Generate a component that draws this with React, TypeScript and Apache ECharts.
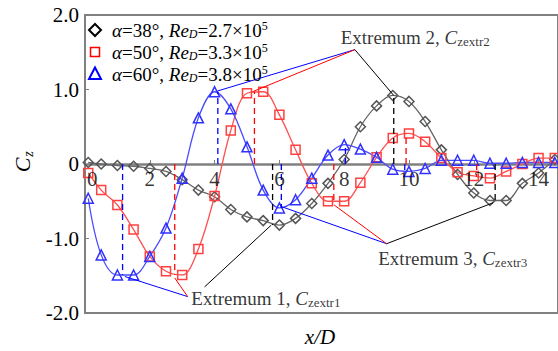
import React, { useEffect, useRef } from 'react';
import * as echarts from 'echarts';

const FF = '"Liberation Serif", "Times New Roman", serif';

// x/D stations
const xPos = [0.1, 0.5, 1, 1.5, 2, 2.5, 3, 3.5, 4, 4.5, 5, 5.5, 6, 6.5, 7, 7.5, 8, 8.5, 9, 9.5, 10, 10.5, 11, 11.5, 12, 12.5, 13, 13.5, 14, 14.5];
// Cz for each case
const cz38 = [0.02, 0.0, -0.02, -0.03, -0.06, -0.1, -0.21, -0.35, -0.44, -0.61, -0.71, -0.76, -0.82, -0.73, -0.53, -0.26, 0.06, 0.5, 0.78, 0.92, 0.84, 0.57, 0.19, -0.14, -0.39, -0.49, -0.49, -0.26, -0.12, 0.06];
const cz50 = [-0.12, -0.35, -0.55, -0.88, -1.24, -1.44, -1.49, -1.14, -0.43, 0.45, 0.95, 0.97, 0.66, 0.19, -0.26, -0.5, -0.5, -0.25, 0.09, 0.35, 0.41, 0.3, 0.08, -0.11, -0.16, -0.19, -0.1, 0.0, 0.08, 0.08];
const cz60 = [-0.46, -1.22, -1.49, -1.49, -1.24, -0.86, -0.19, 0.62, 0.97, 0.74, 0.23, -0.35, -0.59, -0.48, -0.19, 0.12, 0.26, 0.2, 0.09, -0.07, -0.1, -0.06, 0.05, 0.05, 0.05, 0.01, 0.01, 0.02, 0.02, 0.02];

// extremum positions (x, Cz)
const extr38X = [5.79, 9.53, 12.66];
const extr38Y = [-0.82, 0.92, -0.5];
const extr50X = [2.77, 5.23, 7.68, 9.91, 12.09];
const extr50Y = [-1.49, 0.97, -0.5, 0.41, -0.17];
const extr60X = [1.16, 4.1, 6.06, 8.04, 9.87];
const extr60Y = [-1.49, 0.97, -0.59, 0.26, -0.1];

// annotation anchors and targets (data coordinates)
const ann1Anchor = [3.17, -1.78];
const ann1Targets = { blue: [1.23, -1.51], red: [2.77, -1.53] };
const ann1Black = [[3.69, -1.65], [5.75, -0.82]];
const ann2Anchor = [8.33, 1.535];
const ann2Targets = { blue: [4.09, 0.98], red: [5.17, 0.97], black: [9.53, 0.92] };
const ann3Anchor = [9.31, -1.07];
const ann3Targets = { blue: [6.05, -0.57], red: [7.69, -0.55], black: [12.6, -0.52] };

const annTexts = [
  { pos: [3.28, -1.8], text: '{n|Extremum 1, }{c|C}{s|zextr1}' },
  { pos: [7.89, 1.7], text: '{n|Extremum 2, }{c|C}{s|zextr2}' },
  { pos: [9.05, -1.265], text: '{n|Extremum 3, }{c|C}{s|zextr3}' },
];

const xTicks = [0, 2, 4, 6, 8, 10, 12, 14];
const yTicks = [-2, -1, 0, 1, 2];
const yTickLabels = ['-2.0', '-1.0', '0', '1.0', '2.0'];

const legendAlpha = ['38', '50', '60'];
const legendRe = ['2.7', '3.3', '3.8'];

const BLACK = '#000000';
const RED = '#ff0000';
const BLUE = '#0000ff';

function seg(name: string, pts: number[][], color: string, dashed: boolean, width = 1) {
  return {
    name,
    type: 'line',
    data: pts,
    symbol: 'none',
    silent: true,
    z: 4,
    lineStyle: { color, width, type: dashed ? [6, 4] : 'solid' },
  };
}

export default function App() {
  const ref = useRef<HTMLDivElement>(null);
  useEffect(() => {
    document.body.style.margin = '0';
    const chart = echarts.init(ref.current!, null, { renderer: 'svg' });

    const main = (name: string, ys: number[], symbol: string, size: number, lineColor: string, markColor: string) => ({
      name,
      type: 'line',
      data: xPos.map((x, i) => [x, ys[i]]),
      smooth: 0.35,
      symbol,
      symbolSize: size,
      z: 3,
      lineStyle: { color: lineColor, width: 1.3 },
      itemStyle: { color: 'rgba(255,255,255,0)', borderColor: markColor, borderWidth: 1.5 },
    });

    const series: any[] = [
      main('a38', cz38, 'diamond', 10, '#666666', '#555555'),
      main('a50', cz50, 'rect', 9, '#ff5050', '#ff4040'),
      main('a60', cz60, 'triangle', 10, '#4a4aff', '#3030ff'),
    ];

    extr38X.forEach((x, i) => series.push(seg('e38_' + i, [[x, 0], [x, extr38Y[i]]], BLACK, true, 1.3)));
    extr50X.forEach((x, i) => series.push(seg('e50_' + i, [[x, 0], [x, extr50Y[i]]], RED, true, 1.3)));
    extr60X.forEach((x, i) => series.push(seg('e60_' + i, [[x, 0], [x, extr60Y[i]]], BLUE, true, 1.3)));

    series.push(seg('a1b', [ann1Anchor, ann1Targets.blue], BLUE, false));
    series.push(seg('a1r', [ann1Anchor, ann1Targets.red], RED, false));
    series.push(seg('a1k', ann1Black, BLACK, false));
    series.push(seg('a2b', [ann2Anchor, ann2Targets.blue], BLUE, false));
    series.push(seg('a2r', [ann2Anchor, ann2Targets.red], RED, false));
    series.push(seg('a2k', [ann2Anchor, ann2Targets.black], BLACK, false));
    series.push(seg('a3b', [ann3Anchor, ann3Targets.blue], BLUE, false));
    series.push(seg('a3r', [ann3Anchor, ann3Targets.red], RED, false));
    series.push(seg('a3k', [ann3Anchor, ann3Targets.black], BLACK, false));

    annTexts.forEach((a, i) =>
      series.push({
        name: 'txt' + i,
        type: 'scatter',
        data: [a.pos],
        symbolSize: 0.1,
        silent: true,
        z: 6,
        itemStyle: { color: 'rgba(0,0,0,0)' },
        label: {
          show: true,
          position: 'right',
          distance: 0,
          formatter: a.text,
          color: '#000',
          fontFamily: FF,
          rich: {
            n: { fontFamily: FF, fontSize: 19, color: '#000', lineHeight: 22 },
            c: { fontFamily: FF, fontSize: 19, fontStyle: 'italic', color: '#000', lineHeight: 22 },
            s: { fontFamily: FF, fontSize: 13, color: '#000', lineHeight: 12, verticalAlign: 'bottom' },
          },
        },
      })
    );

    // x tick labels placed just under the zero line
    series.push({
      name: 'xticklabels',
      type: 'scatter',
      silent: true,
      symbolSize: 0.1,
      z: 5,
      itemStyle: { color: 'rgba(0,0,0,0)' },
      data: xTicks.map((v) => ({
        value: [v, 0],
        label: v === 0 ? { align: 'left', offset: [2, 0] } : undefined,
      })),
      label: {
        show: true,
        position: 'bottom',
        distance: 4,
        formatter: (p: any) => String(p.value[0]),
        fontFamily: FF,
        fontSize: 21,
        color: '#000',
      },
    });

    // legend built from graphic elements
    const richLegend = {
      g: { fontFamily: FF, fontSize: 19, fontStyle: 'italic', fill: '#000', lineHeight: 20 },
      n: { fontFamily: FF, fontSize: 19, fill: '#000', lineHeight: 20 },
      i: { fontFamily: FF, fontSize: 19, fontStyle: 'italic', fill: '#000', lineHeight: 20 },
      s: { fontFamily: FF, fontSize: 12, fontStyle: 'italic', fill: '#000', lineHeight: 10, verticalAlign: 'bottom' },
      p: { fontFamily: FF, fontSize: 12, fill: '#000', lineHeight: 10, verticalAlign: 'top' },
    };
    const rowY = [30, 52, 74];
    const iconX = 95;
    const legendGraphics: any[] = [];
    legendGraphics.push({
      type: 'polygon',
      shape: { points: [[iconX, rowY[0] - 6], [iconX + 6, rowY[0]], [iconX, rowY[0] + 6], [iconX - 6, rowY[0]]] },
      style: { fill: '#fff', stroke: BLACK, lineWidth: 2 },
      z: 10,
    });
    legendGraphics.push({
      type: 'rect',
      shape: { x: iconX - 4.5, y: rowY[1] - 4.5, width: 9, height: 9 },
      style: { fill: '#fff', stroke: RED, lineWidth: 1.5 },
      z: 10,
    });
    legendGraphics.push({
      type: 'polygon',
      shape: { points: [[iconX, rowY[2] - 6.5], [iconX + 6, rowY[2] + 5], [iconX - 6, rowY[2] + 5]] },
      style: { fill: '#fff', stroke: BLUE, lineWidth: 2 },
      z: 10,
    });
    legendAlpha.forEach((a, i) => {
      legendGraphics.push({
        type: 'text',
        x: 112,
        y: rowY[i],
        z: 10,
        style: {
          text: `{g|α}{n|=${a}°, }{i|Re}{s|D}{n|=${legendRe[i]}×10}{p|5}`,
          align: 'left',
          verticalAlign: 'middle',
          rich: richLegend,
        },
      });
    });

    const option: any = {
      animation: false,
      backgroundColor: '#ffffff',
      grid: { left: 85, top: 15, width: 475, height: 298, show: true, borderColor: '#808080', borderWidth: 2, backgroundColor: 'transparent' },
      xAxis: {
        type: 'value',
        min: 0,
        max: 14.6,
        interval: 2,
        axisLine: { onZero: true, lineStyle: { color: '#808080', width: 2.5 } },
        axisTick: { show: true, inside: true, length: 4, lineStyle: { color: '#808080' } },
        axisLabel: { show: false },
        splitLine: { show: false },
      },
      yAxis: {
        type: 'value',
        min: -2,
        max: 2,
        interval: 1,
        axisLine: { show: true, lineStyle: { color: '#808080', width: 2 } },
        axisTick: { show: true, inside: true, length: 4, lineStyle: { color: '#808080' } },
        axisLabel: {
          fontFamily: FF,
          fontSize: 21,
          color: '#000',
          margin: 6,
          formatter: (v: number) => {
            const idx = yTicks.indexOf(v);
            return idx >= 0 ? yTickLabels[idx] : '';
          },
        },
        splitLine: { show: false },
      },
      graphic: [
        ...legendGraphics,
        {
          type: 'group',
          x: 22,
          y: 162,
          rotation: Math.PI / 2,
          children: [
            {
              type: 'text',
              x: -3,
              y: 0,
              style: { text: 'C', align: 'center', verticalAlign: 'middle', fontFamily: FF, fontSize: 22, fontStyle: 'italic', fill: '#000' },
            },
            {
              type: 'text',
              x: 8,
              y: 6,
              style: { text: 'z', align: 'center', verticalAlign: 'middle', fontFamily: FF, fontSize: 14, fontStyle: 'italic', fill: '#000' },
            },
          ],
        },
        {
          type: 'text',
          x: 320,
          y: 337,
          style: {
            text: 'x/D',
            align: 'center',
            verticalAlign: 'middle',
            fontFamily: FF,
            fontSize: 21,
            fontStyle: 'italic',
            fill: '#000',
          },
        },
      ],
      series,
    };

    chart.setOption(option);
    return () => chart.dispose();
  }, []);

  return <div ref={ref} style={{ position: 'absolute', left: 0, top: 0, width: 558, height: 351 }} />;
}
